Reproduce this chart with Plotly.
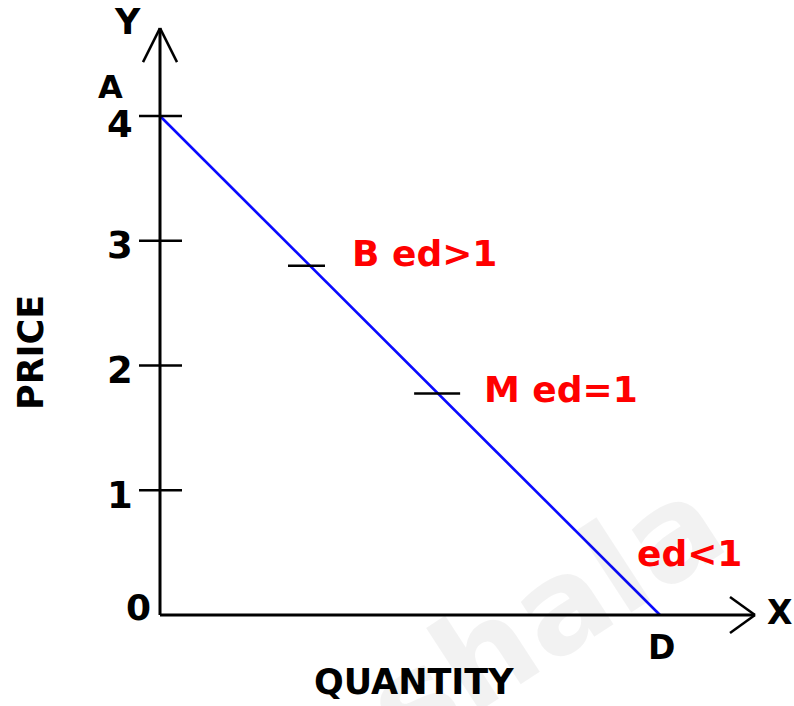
import plotly.graph_objects as go

# Demand curve: price falls linearly from A (quantity 0) to D (price 0)
curve_quantity = [0, 8]
curve_price = [4, 0]

# Marked points on the curve and their elasticity labels
point_names = ["B", "M"]
point_quantity = [2.4, 4.45]
point_labels = ["B ed>1", "M ed=1"]
lower_label = "ed<1"

# Price axis ticks
price_ticks = [0, 1, 2, 3, 4]

FONT = "DejaVu Sans"
RED = "#ff0000"


def price_on_curve(q):
    (q0, q1), (p0, p1) = curve_quantity, curve_price
    return p0 + (p1 - p0) * (q - q0) / (q1 - q0)


point_price = [price_on_curve(q) for q in point_quantity]

x_range = [-2.56, 10.144]
y_range = [-0.7295, 4.93]
y_axis_top = 4.705
x_axis_end = 9.52

fig = go.Figure()

# demand line
fig.add_trace(go.Scatter(
    x=curve_quantity, y=curve_price, mode="lines",
    line=dict(color="#0a0aff", width=2.6), hoverinfo="skip", showlegend=False,
))

shapes = []
axis_line = dict(color="black", width=3)
arm_line = dict(color="black", width=2.5)

# axes
shapes.append(dict(type="line", xref="x", yref="y", x0=0, x1=0, y0=0, y1=y_axis_top, line=axis_line))
shapes.append(dict(type="line", xref="x", yref="y", x0=0, x1=x_axis_end, y0=0, y1=0, line=axis_line))

# arrow heads (open V)
for dx in (-17, 17):
    shapes.append(dict(type="line", xref="x", yref="y",
                       xsizemode="pixel", xanchor=0, x0=0, x1=dx,
                       ysizemode="pixel", yanchor=y_axis_top, y0=0, y1=-34,
                       line=arm_line))
for dy in (-18, 18):
    shapes.append(dict(type="line", xref="x", yref="y",
                       xsizemode="pixel", xanchor=x_axis_end, x0=0, x1=-25,
                       ysizemode="pixel", yanchor=0, y0=0, y1=dy,
                       line=arm_line))

# tick marks crossing the price axis
for p in price_ticks[1:]:
    shapes.append(dict(type="line", xref="x", yref="y",
                       xsizemode="pixel", xanchor=0, x0=-21, x1=22,
                       y0=p, y1=p, line=dict(color="black", width=2.5)))

# short marks on the curve at B and M
for q, p, (left, right) in zip(point_quantity, point_price, [(-22, 15), (-24, 22)]):
    shapes.append(dict(type="line", xref="x", yref="y",
                       xsizemode="pixel", xanchor=q, x0=left, x1=right,
                       y0=p, y1=p, line=dict(color="black", width=2.5)))

annotations = []


def label(text, x, y, size, color="black", xshift=0, yshift=0, xanchor="center",
          xref="x", yref="y", textangle=0):
    annotations.append(dict(
        text=text, x=x, y=y, xref=xref, yref=yref, showarrow=False,
        xanchor=xanchor, yanchor="middle", xshift=xshift, yshift=yshift,
        textangle=textangle,
        font=dict(family=FONT, size=size, color=color, weight="bold"),
    ))


# faint publisher watermark behind the plot
annotations.append(dict(
    text="shala", x=545 / 794, y=1 - 615 / 706, xref="paper", yref="paper",
    xanchor="center", yanchor="middle",
    showarrow=False, textangle=-33,
    font=dict(family=FONT, size=130, color="rgba(0,0,0,0.05)", weight="bold"),
))

# price tick labels
for p in price_ticks:
    if p == 0:
        label(str(p), 0, p, 36, xshift=-22, yshift=8)
    elif p == 4:
        label(str(p), 0, p, 37, xshift=-40, yshift=-8)
    else:
        label(str(p), 0, p, 37, xshift=-40, yshift=-5)

# axis letters
label("Y", 0, y_axis_top, 35, xshift=-33, yshift=6)
label("X", x_axis_end, 0, 33, xshift=24, yshift=3)
label("A", curve_quantity[0], curve_price[0], 32, xshift=-50, yshift=29)
label("D", curve_quantity[1], curve_price[1], 33, xshift=1, yshift=-32)

# elasticity labels
for q, p, text, (xs, ys) in zip(point_quantity, point_price, point_labels, [(40, 12), (44, 4)]):
    label(text, q, p, 36, color=RED, xanchor="left", xshift=xs, yshift=ys)
label(lower_label, curve_quantity[1], curve_price[1], 36, color=RED,
      xanchor="left", xshift=-25, yshift=62)

# axis titles
label("PRICE", 31 / 794, 1 - 353 / 706, 35, xref="paper", yref="paper", textangle=-90)
label("QUANTITY", 414 / 794, 1 - 682 / 706, 35, xref="paper", yref="paper")

fig.update_layout(
    width=794, height=706, autosize=False,
    margin=dict(l=0, r=0, t=0, b=0),
    paper_bgcolor="white", plot_bgcolor="white",
    xaxis=dict(range=x_range, visible=False, fixedrange=True),
    yaxis=dict(range=y_range, visible=False, fixedrange=True),
    shapes=shapes, annotations=annotations,
    showlegend=False,
)

fig.write_html("out.html")
